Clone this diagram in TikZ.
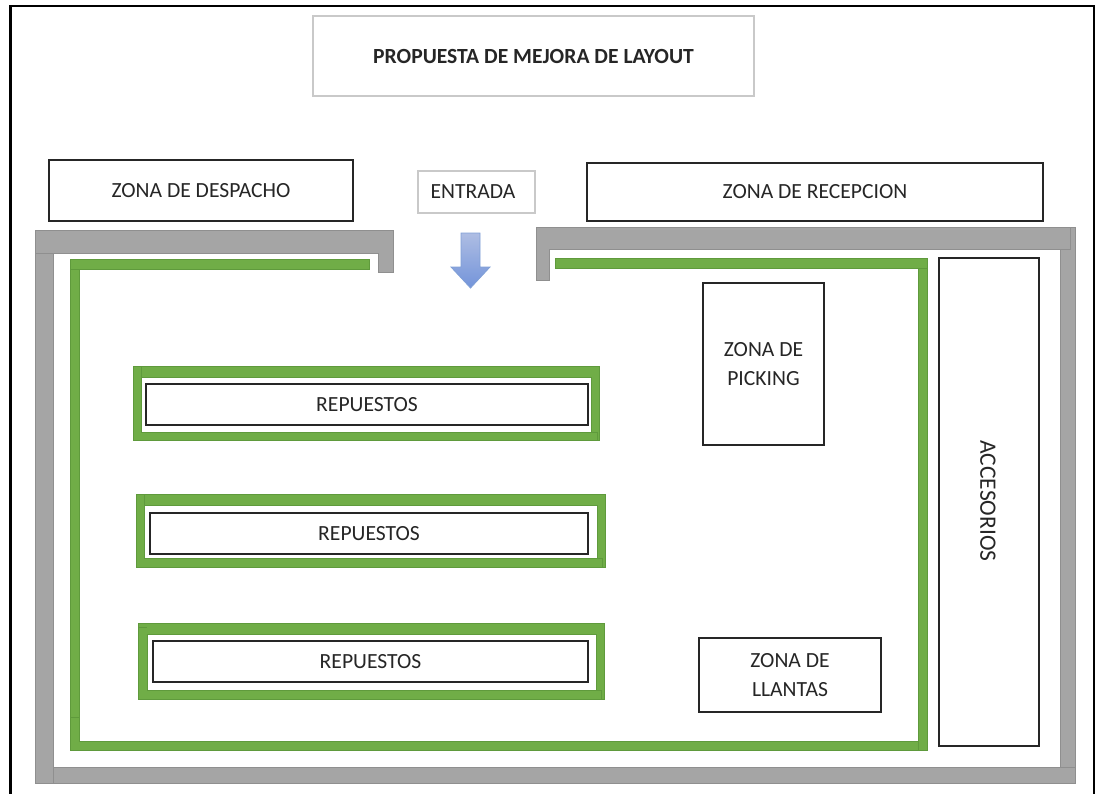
\documentclass[tikz,border=0pt]{standalone}
\usepackage{fontspec}
\setmainfont{Carlito}
\usetikzlibrary{arrows.meta}
\definecolor{wallc}{HTML}{A5A5A5}
\definecolor{walle}{HTML}{8F8F8F}
\definecolor{grn}{HTML}{70AD47}
\definecolor{grne}{HTML}{5F9A3C}
\definecolor{lightb}{HTML}{C9C9C9}
\definecolor{txt}{HTML}{262626}
\definecolor{arrtop}{HTML}{AEBDE3}
\definecolor{arrbot}{HTML}{7394DA}
\definecolor{arredge}{HTML}{7F9FD6}
\tikzset{
 x=1pt,y=-1pt,
 zonetext/.style={font=\fontsize{21.6}{28.5}\selectfont,text=txt},
 zone/.style={draw=txt,line width=1.3pt,fill=white,inner sep=0pt,zonetext,align=center},
 wall/.style={fill=wallc,draw=walle,line width=.6pt},
 green bar/.style={fill=grn,draw=grne,line width=.6pt},
 wallseam/.style={draw=walle,line width=.8pt},
 grnseam/.style={draw=grne,line width=.8pt},
 frameline/.style={draw=black,line width=2.4pt}
}
\newcommand{\zonebox}[6][]{\node[zone,minimum width=#4-#2,minimum height=#5-#3,#1] (#6) at ({(#2+#4)/2},{(#3+#5)/2})}
\newcommand{\dn}[1]{\raisebox{-1pt}{#1}}
\begin{document}
\begin{tikzpicture}
\useasboundingbox (0,0) rectangle (1101,793);
% outer frame
\coordinate (fa) at (10.5,794); \coordinate (fb) at (10.5,6); \coordinate (fc) at (1094,6); \coordinate (fd) at (1094,794);
\draw[frameline] (fa) -- (fb) -- (fc) -- (fd);
% walls
\path[wall] (35,230) -- (393,230) -- (393,272) -- (378,272) -- (378,253) -- (53,253) -- (53,767) -- (1060,767) -- (1060,249) -- (549,249) -- (549,280) -- (536,280) -- (536,227) -- (1075,227) -- (1075,783) -- (35,783) -- cycle;
\draw[wallseam] (35,253) -- (53,253);
\draw[wallseam] (53,767) -- (53,783);
\draw[wallseam] (1060,249) -- (1070,249) -- (1070,227);
\draw[wallseam] (1060,767) -- (1075,767);
% green aisles
\path[green bar] (70,259) -- (369,259) -- (369,269) -- (79,269) -- (79,741) -- (918,741) -- (918,268) -- (555,268) -- (555,258) -- (927,258) -- (927,750) -- (70,750) -- cycle;
\draw[grnseam] (70,717) -- (79,717);
\draw[grnseam] (70,269) -- (135,269);
\draw[grnseam] (862,741) -- (918,741) -- (918,750);
\draw[grnseam] (918,268) -- (927,268);
\path[green bar,even odd rule] (133,366) rectangle (599,440) (141,377) rectangle (591,432);
\draw[grnseam] (141,366) -- (141,377);
\draw[grnseam] (591,432) -- (597,432) -- (597,440);
\path[green bar,even odd rule] (136,494) rectangle (605,567) (144,505) rectangle (597,558);
\draw[grnseam] (144,494) -- (144,505);
\draw[grnseam] (597,558) -- (602,558) -- (602,567);
\path[green bar,even odd rule] (138,623) rectangle (604,699) (147,634) rectangle (596,690);
\draw[grnseam] (138,627) -- (147,627);
\draw[grnseam] (596,690) -- (601,690) -- (601,699);
% boxes
\zonebox{313}{16}{754}{96}{tit} [draw=lightb] {\bfseries PROPUESTA DE MEJORA DE LAYOUT};
\zonebox{49}{160}{353}{221}{desp} {ZONA DE DESPACHO};
\zonebox{418}{171}{535}{213}{ent} [draw=lightb] {\kern-7pt \dn{ENTRADA}};
\zonebox{587}{163}{1043}{221}{rec} {\dn{ZONA DE RECEPCION}};
\zonebox{146}{384}{588}{425}{r1} {\dn{REPUESTOS}};
\zonebox{150}{513}{588}{554}{r2} {\dn{REPUESTOS}};
\zonebox{153}{641}{588}{682}{r3} {\dn{REPUESTOS}};
\zonebox{703}{283}{824}{445}{pick} {\dn{ZONA DE}\\\dn{PICKING}};
\zonebox{699}{638}{881}{712}{llan} {\dn{ZONA DE}\\\dn{LLANTAS}};
\zonebox{939}{258}{1039}{746}{acc} {};
\node[rotate=-90,font=\fontsize{23.5}{28}\selectfont,text=txt] (acclab) at (988,501) {ACCESORIOS};
% arrow
\path[draw=arredge,line width=.8pt,top color=arrtop,bottom color=arrbot] (461,233) -- (480,233) -- (480,267) -- (490,267) -- (470.5,288) -- (451,267) -- (461,267) -- cycle;
\end{tikzpicture}
\end{document}
